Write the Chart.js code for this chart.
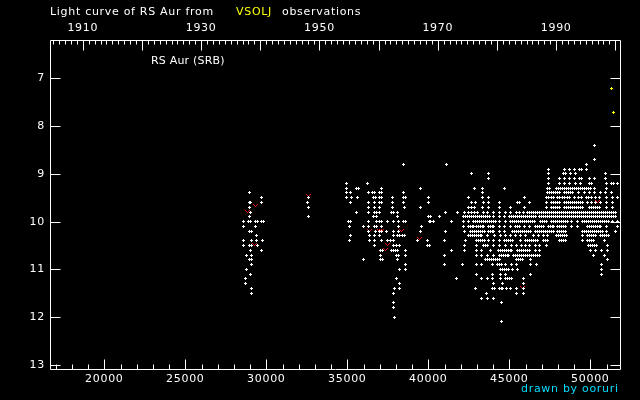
<!DOCTYPE html>
<html lang="en">
<head>
  <meta charset="UTF-8">
  <title>Light curve of RS Aur</title>
  <script src="https://cdn.jsdelivr.net/npm/chart.js"></script>
  <style>
    body {
      margin: 0;
      background: #000;
    }
    .wrap {
      position: relative;
      width: 640px;
      height: 400px;
      background: #000;
      font-family: 'DejaVu Sans', sans-serif;
      font-size: 11px;
      line-height: 13px;
      letter-spacing: 0.7px;
      color: #fff;
    }
    .wrap canvas {
      position: absolute;
      left: 0;
      top: 0;
    }
    .txt {
      position: absolute;
      white-space: nowrap;
    }
  </style>
</head>
<body>
  <div class="wrap">
    <canvas id="lc" width="640" height="400"></canvas>
    <div class="txt" style="left:50px; top:5px;">Light curve of RS Aur from</div>
    <div class="txt" style="left:236px; top:5px; color:#ffff00;">VSOLJ</div>
    <div class="txt" style="left:282px; top:5px;">observations</div>
    <div class="txt" style="left:151px; top:54px; letter-spacing:0.2px;">RS Aur (SRB)</div>
    <div class="txt" style="left:521px; top:382px; color:#00ddff;">drawn by ooruri</div>
  </div>

  <script>
    // axis ranges (JD - 2400000, magnitude, year)
    const jdMin = 16648, jdMax = 51833;
    const magMin = 6.198, magMax = 13.105;
    const yearMin = 1904.46, yearMax = 2000.79;
    const jdTicks = [20000, 25000, 30000, 35000, 40000, 45000, 50000];
    const yearTicks = [1910, 1930, 1950, 1970, 1990];
    const magTicks = [7, 8, 9, 10, 11, 12, 13];

    // visual estimates, one list of dates per magnitude row
    const visMags = [8.4, 8.7, 8.8, 8.9, 9.0, 9.1, 9.2, 9.3, 9.4, 9.5, 9.6, 9.7, 9.8, 9.9, 10.0,
      10.1, 10.2, 10.3, 10.4, 10.5, 10.6, 10.7, 10.8, 10.9, 11.0, 11.1, 11.2, 11.3, 11.4, 11.5,
      11.6, 11.7, 11.8, 12.0, 12.1];
    const visJds = [
      [50248],
      [50251],
      [38460, 41112, 49757],
      [47411, 48399, 48708, 49016, 49346, 49428, 49757],
      [42657, 43707, 47411, 48358, 48440, 48769, 49078, 50930],
      [43707, 47411, 48090, 48399, 48708, 49016, 49346, 49428, 49942, 50251, 50930],
      [34940, 36237, 47411, 48090, 48399, 48708, 49078, 49387, 49963, 50045, 50992, 51321, 51403, 51671],
      [34940, 35537, 35661, 37101, 39509, 42842, 43336, 44695, 47370, 47452, 47905, 48029, 48152, 48275,
        48399, 48522, 48646, 48769, 48893, 49016, 49140, 49263, 49387, 49510, 49634, 49757, 49881, 50004,
        50251, 50992],
      [28953, 34940, 35187, 36299, 36566, 36690, 36978, 37101, 38460, 43336, 47349, 47473, 47596, 47720,
        47843, 47967, 48090, 48399, 48522, 48646, 48769, 48893, 49263, 49634, 49942, 50251, 50622, 50930, 51301],
      [29694, 32596, 34940, 35249, 35620, 36607, 36731, 36978, 37101, 37780, 38460, 38583, 40003, 42472,
        43336, 43707, 45929, 47288, 47411, 47596, 47720, 47967, 48090, 48275, 48399, 48584, 48708, 49016,
        49263, 49449, 49757, 49881, 50066, 50313, 50560, 50992, 51362, 51671],
      [28953, 29035, 29694, 32534, 35187, 36299, 36669, 36978, 37101, 37780, 38460, 40003, 42657, 42904,
        43398, 43707, 44386, 45518, 45600, 46238, 47288, 47596, 47720, 47843, 47967, 48090, 48399, 48522,
        48646, 48769, 48893, 49016, 49140, 49263, 49387, 49510, 49819, 50066, 50313, 50622, 50992, 51362],
      [28973, 32596, 36299, 36669, 36978, 37780, 38521, 39509, 42472, 42657, 42842, 43336, 43707, 44386,
        45065, 45929, 47288, 47596, 47720, 47843, 47967, 48090, 48399, 48522, 48646, 48769, 48893, 49016,
        49140, 49263, 49387, 49510, 49942, 50066, 50189, 50313, 50436, 50560, 50992, 51362],
      [28994, 35558, 36299, 36669, 36793, 36978, 37719, 37842, 38089, 41053, 41793, 42225, 42472, 42657,
        42842, 43028, 43398, 43645, 44015, 44386, 44756, 45065, 45435, 45621, 45868, 46115, 46238, 46362,
        46485, 46608, 46732, 46855, 46979, 47102, 47226, 47349, 47473, 47596, 47720, 47843, 47967, 48090,
        48214, 48337, 48461, 48584, 48708, 48831, 48955, 49078, 49202, 49325, 49449, 49572, 49696, 49819,
        49942, 50066, 50189, 50313, 50436, 50560, 50683, 50807, 50930, 51054, 51177, 51301, 51424, 51548],
      [28953, 32596, 36607, 36793, 38089, 40024, 40106, 40682, 42163, 42287, 42410, 42534, 42657, 42781,
        42904, 43028, 43151, 43274, 43398, 43521, 43645, 43768, 44015, 44386, 44695, 45003, 45127, 45250,
        45374, 45497, 45621, 45744, 45868, 45991, 46115, 46238, 46362, 46485, 46608, 46855, 46979, 47102,
        47226, 47349, 47473, 47596, 47720, 47843, 47967, 48090, 48214, 48337, 48461, 48584, 48708, 48831,
        48955, 49078, 49202, 49325, 49449, 49572, 49696, 49819, 49942, 50066, 50189, 50313, 50436, 50560,
        50683, 50807, 50930, 51054, 51177, 51301, 51424, 51548],
      [28582, 28911, 29014, 29323, 29447, 29694, 29817, 35064, 35187, 36299, 36793, 36978, 37101, 37472,
        37842, 38151, 38460, 38583, 40065, 40127, 40312, 41422, 42163, 42472, 42781, 42904, 43028, 43151,
        43274, 43398, 43521, 43645, 43768, 43892, 44015, 44139, 44386, 44756, 45065, 45188, 45312, 45435,
        45559, 45682, 45806, 45929, 46053, 46176, 46300, 46423, 46547, 46917, 47041, 47164, 47288, 47596,
        47720, 47843, 47967, 48090, 48214, 48337, 48461, 48584, 48831, 49202, 49510, 49634, 49757, 49881,
        50004, 50128, 50251, 50375, 50498, 50622, 50745, 50869, 50992, 51116, 51362, 51671],
      [28582, 29303, 35126, 35990, 36299, 36669, 36793, 37101, 38151, 39571, 42163, 42472, 42595, 42719,
        42781, 42966, 43089, 43213, 43336, 43398, 43707, 43830, 43954, 44015, 44386, 44695, 45065, 45374,
        45497, 45621, 45929, 46238, 46608, 46732, 46855, 46979, 47102, 47411, 47535, 47658, 47720, 47967,
        48090, 48214, 48337, 48461, 48831, 49202, 49819, 49942, 50066, 50189, 50313, 50436, 50560, 50622,
        50992, 51671],
      [28973, 29097, 36299, 36731, 36978, 37101, 37410, 37842, 38151, 39509, 41053, 42225, 42595, 42719,
        42842, 42966, 43089, 43213, 43336, 43460, 43707, 43830, 43954, 44015, 44386, 44695, 45188, 45312,
        45435, 45559, 45682, 45806, 45929, 46053, 46176, 46300, 46608, 46732, 46855, 46979, 47102, 47226,
        47349, 47473, 47596, 47720, 47967, 48090, 48214, 48337, 48461, 49510, 49634, 49757, 49881, 50004,
        50128, 50251, 50375, 50498, 50622, 50745, 50992, 51548],
      [29385, 35187, 36360, 36669, 36978, 37842, 38089, 38213, 38398, 38521, 42472, 42595, 42719, 42842,
        42966, 43089, 43213, 43274, 43645, 44077, 44448, 44756, 45065, 45374, 45682, 45991, 46485, 46794,
        47102, 47349, 47905, 48029, 48152, 48275, 48399, 48522, 49510, 49819, 49942, 50066, 50189, 50313,
        50622, 50745, 50869, 50992, 51116],
      [28582, 29076, 29385, 29755, 35126, 36360, 36669, 37101, 37472, 37657, 37842, 39324, 39941, 40991,
        42287, 42966, 43089, 43213, 43336, 43460, 43707, 44015, 44386, 44695, 44818, 44942, 45065, 45188,
        45682, 45991, 46115, 46238, 46362, 46485, 46608, 46732, 47102, 47226, 47349, 48090, 48214, 48337,
        48461, 49510, 49819, 49942, 50066, 50189, 50869],
      [28582, 28973, 29097, 29447, 36669, 37842, 38027, 38213, 39941, 40065, 42225, 42966, 43398, 43521,
        43645, 44015, 44386, 44756, 45127, 45435, 45744, 45991, 46238, 46608, 46855, 47288, 49881, 50004,
        50128, 50251, 50375, 51054],
      [29014, 29694, 37040, 37163, 37719, 37842, 37966, 38089, 38583, 41422, 42225, 42966, 43274, 43830,
        44324, 44448, 44571, 44695, 44818, 44942, 45065, 45127, 45497, 45621, 45744, 45868, 45991, 46115,
        46238, 46608, 46855, 50004, 50313, 50683, 51054],
      [28767, 29097, 37040, 38027, 38151, 38583, 40991, 42966, 43274, 43645, 44015, 44386, 44509, 44633,
        44756, 44880, 44942, 45250, 45374, 45497, 45621, 45744, 45868, 45991, 46115, 46238, 46362, 46485,
        46608, 46732, 46855, 50189, 50869],
      [28973, 29097, 35990, 37040, 37163, 38089, 43521, 43645, 43768, 43892, 44015, 44139, 44262, 44386,
        45435, 45559, 45682, 45806, 46300, 51054],
      [29076, 38583, 40991, 42101, 42966, 43274, 43954, 44262, 44386, 44509, 44756, 45127, 45435, 46300,
        46670, 50683],
      [28767, 38213, 38583, 44448, 44571, 44695, 44818, 44942, 45188, 45497, 50683],
      [29014, 42966, 43954, 44448, 44756, 46300, 50683],
      [28706, 38027, 41731, 43274, 43645, 43954, 44448, 44756, 44880, 45003, 45127, 45868],
      [28706, 38213, 44015, 44571, 45868],
      [29076, 37904, 38213, 42904, 43954, 44077, 44386, 44509, 44571, 44818, 45065, 45435, 45868],
      [29076, 37842, 43604, 45435, 45868],
      [43274, 43645, 44015],
      [37842, 44509],
      [37842],
      [37904],
      [44509]
    ];

    // "fainter than" estimates (red v)
    const limJds = [28829, 29261, 29323, 32596, 36360, 36978, 37101, 37348, 37472, 38336, 39447, 45806, 50436];
    const limMags = [9.78, 10.48, 9.67, 9.45, 10.18, 10.18, 10.18, 10.58, 10.47, 10.18, 10.36, 11.37, 9.58];

    // yellow points at the right edge
    const yelJds = [51297, 51421];
    const yelMags = [7.21, 7.71];

    const visPoints = [];
    visMags.forEach((m, i) => visJds[i].forEach(jd => visPoints.push({ x: jd, y: m })));
    const limPoints = limJds.map((jd, i) => ({ x: jd, y: limMags[i] }));
    const yelPoints = yelJds.map((jd, i) => ({ x: jd, y: yelMags[i] }));

    function makeMark(color, w, h, pixels) {
      const c = document.createElement('canvas');
      c.width = w;
      c.height = h;
      const g = c.getContext('2d');
      g.fillStyle = color;
      pixels.forEach(p => g.fillRect(p[0], p[1], 1, 1));
      return c;
    }
    const plusPix = [[1, 0], [0, 1], [1, 1], [2, 1], [1, 2]];
    const vPix = [[0, 0], [4, 0], [1, 1], [3, 1], [2, 2]];
    const whitePlus = makeMark('#ffffff', 3, 3, plusPix);
    const yellowPlus = makeMark('#ffff00', 3, 3, plusPix);
    const redV = makeMark('#e81010', 5, 3, vPix);

    // frame and inward tick marks, drawn from the chart's own scales
    const frameTicks = {
      id: 'frameTicks',
      beforeDraw(chart) {
        chart.ctx.letterSpacing = '0.7px';
        chart.ctx.imageSmoothingEnabled = false;
      },
      beforeDatasetsDraw(chart) {
        // snap marks to whole pixels so the small bitmaps stay crisp
        chart.data.datasets.forEach((ds, i) => {
          chart.getDatasetMeta(i).data.forEach(el => {
            el.x = Math.floor(el.x) + 0.5;
            el.y = Math.floor(el.y) + 0.5;
          });
        });
      },
      afterDraw(chart) {
        const { ctx, chartArea: a, scales } = chart;
        const L = a.left + 0.5, R = a.right + 0.5, T = a.top + 0.5, B = a.bottom - 0.5;
        ctx.save();
        ctx.strokeStyle = '#ffffff';
        ctx.lineWidth = 1;
        ctx.beginPath();
        ctx.moveTo(L, T); ctx.lineTo(R, T); ctx.lineTo(R, B); ctx.lineTo(L, B); ctx.closePath();
        for (let v = 17000; v <= 51000; v += 1000) {
          const px = Math.round(scales.x.getPixelForValue(v)) + 0.5;
          const len = v % 5000 === 0 ? 10 : 5;
          ctx.moveTo(px, B); ctx.lineTo(px, B - len);
        }
        for (let yr = 1905; yr <= 2000; yr++) {
          const px = Math.round(scales.top.getPixelForValue(yr)) + 0.5;
          const len = yr % 10 === 0 ? 10 : 4;
          ctx.moveTo(px, T); ctx.lineTo(px, T + len);
        }
        magTicks.forEach(m => {
          const py = Math.round(scales.y.getPixelForValue(m)) + 0.5;
          ctx.moveTo(L, py); ctx.lineTo(L + 10, py);
          ctx.moveTo(R, py); ctx.lineTo(R - 10, py);
        });
        ctx.stroke();
        ctx.restore();
      }
    };

    const tickFont = { family: "'DejaVu Sans', sans-serif", size: 11 };

    new Chart(document.getElementById('lc').getContext('2d'), {
      type: 'scatter',
      data: {
        datasets: [
          { label: 'visual', data: visPoints, pointStyle: whitePlus, pointRadius: 2 },
          { label: 'fainter than', data: limPoints, pointStyle: redV, pointRadius: 2 },
          { label: 'other', data: yelPoints, pointStyle: yellowPlus, pointRadius: 2 }
        ]
      },
      options: {
        responsive: false,
        animation: false,
        devicePixelRatio: 1,
        layout: { padding: { left: 0, right: 20, top: 0, bottom: 0 } },
        plugins: {
          legend: { display: false },
          tooltip: { enabled: false }
        },
        scales: {
          x: {
            type: 'linear',
            position: 'bottom',
            min: jdMin,
            max: jdMax,
            afterBuildTicks: s => { s.ticks = jdTicks.map(v => ({ value: v })); },
            afterFit: s => { s.height = 30; },
            grid: { display: false, drawTicks: false },
            border: { display: false },
            ticks: { color: '#ffffff', font: tickFont, padding: 3, maxRotation: 0, autoSkip: false, callback: v => String(v) }
          },
          top: {
            type: 'linear',
            position: 'top',
            min: yearMin,
            max: yearMax,
            afterBuildTicks: s => { s.ticks = yearTicks.map(v => ({ value: v })); },
            afterFit: s => { s.height = 40; },
            grid: { display: false, drawTicks: false },
            border: { display: false },
            ticks: { color: '#ffffff', font: tickFont, padding: 5, maxRotation: 0, autoSkip: false, callback: v => String(v) }
          },
          y: {
            type: 'linear',
            reverse: true,
            min: magMin,
            max: magMax,
            afterBuildTicks: s => { s.ticks = magTicks.map(v => ({ value: v })); },
            afterFit: s => { s.width = 50; },
            grid: { display: false, drawTicks: false },
            border: { display: false },
            ticks: { color: '#ffffff', font: tickFont, padding: 5, autoSkip: false, callback: v => String(v) }
          }
        }
      },
      plugins: [frameTicks]
    });
  </script>
</body>
</html>
